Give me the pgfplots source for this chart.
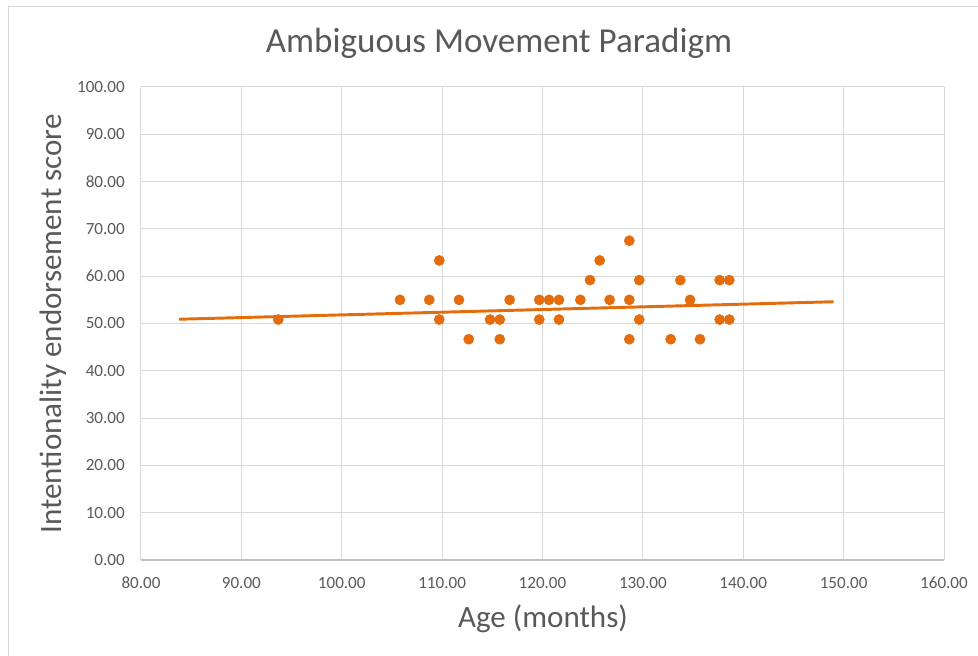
\documentclass[border=0pt]{standalone}
\usepackage{fontspec}
\setmainfont{Carlito}
\usepackage{pgfplots}
\pgfplotsset{compat=1.18}

\definecolor{dotorange}{RGB}{228,108,10}
\definecolor{gridgray}{RGB}{217,217,217}
\definecolor{axisgray}{RGB}{191,191,191}
\definecolor{textgray}{RGB}{89,89,89}

\begin{document}
\begin{tikzpicture}
	% picture frame: 1px = 0.75pt, axis box from (141,87) to (944,560) px
	\useasboundingbox (-105.75pt,-72pt) rectangle (627.75pt,420pt);
	\draw[gridgray, line width=1.1pt] (-99.4pt,-80pt) -- (-99.4pt,415.1pt) -- (640pt,415.1pt);

	\begin{axis}[
		at={(0,0)}, anchor=south west,
		scale only axis,
		width=602.25pt, height=354.75pt,
		xmin=80, xmax=160,
		ymin=0, ymax=100,
		xtick={80,90,...,160},
		ytick={0,10,...,100},
		grid=major,
		grid style={gridgray, line width=0.75pt},
		axis line style={draw=none},
		major tick length=0pt,
		tick label style={font=\fontsize{12.8}{14}\selectfont, text=textgray},
		/pgf/number format/.cd, fixed, fixed zerofill, precision=2, assume math mode=true,
		/pgfplots/.cd,
		yticklabel style={inner sep=0pt, anchor=east, xshift=-12pt},
		xticklabel style={inner sep=0pt, anchor=north, yshift=-12.75pt},
		title={Ambiguous Movement Paradigm},
		title style={font=\fontsize{26.3}{30}\selectfont, text=textgray,
			at={(rel axis cs:0.4458,1.055)}, anchor=base, inner sep=0pt},
		xlabel={Age (months)},
		xlabel style={font=\fontsize{23.3}{27}\selectfont, text=textgray,
			at={(rel axis cs:0.5006,-0.1437)}, anchor=base, inner sep=0pt},
		ylabel={Intentionality endorsement score},
		ylabel style={font=\fontsize{23.3}{27}\selectfont, text=textgray,
			at={(rel axis cs:-0.0984,0.499)}, anchor=base, inner sep=0pt},
		clip=false,
		]

		\draw[axisgray, line width=0.9pt] (rel axis cs:0,0) -- (rel axis cs:1,0);

		% scatter
		\addplot[only marks, mark=*, mark size=3.8pt, color=dotorange]
		coordinates {
			(93.68,50.83)
			(105.80,55.00)
			(108.72,55.00)
			(109.72,63.33)
			(109.72,50.83)
			(111.68,55.00)
			(112.65,46.67)
			(114.77,50.83)
			(115.74,50.83)
			(115.74,46.67)
			(116.73,55.00)
			(119.68,55.00)
			(119.68,50.83)
			(120.65,55.00)
			(121.64,55.00)
			(121.64,50.83)
			(123.77,55.00)
			(124.73,59.17)
			(125.70,63.33)
			(126.69,55.00)
			(128.65,67.50)
			(128.65,55.00)
			(128.65,46.67)
			(129.64,59.17)
			(129.64,50.83)
			(132.77,46.67)
			(133.73,59.17)
			(134.70,55.00)
			(135.69,46.67)
			(137.65,59.17)
			(137.65,50.83)
			(138.61,59.17)
			(138.61,50.83)
		};

		% linear trendline
		\addplot[no marks, color=dotorange, line width=2.2pt]
		coordinates {(83.8,50.9)(149.0,54.6)};
	\end{axis}
\end{tikzpicture}
\end{document}
